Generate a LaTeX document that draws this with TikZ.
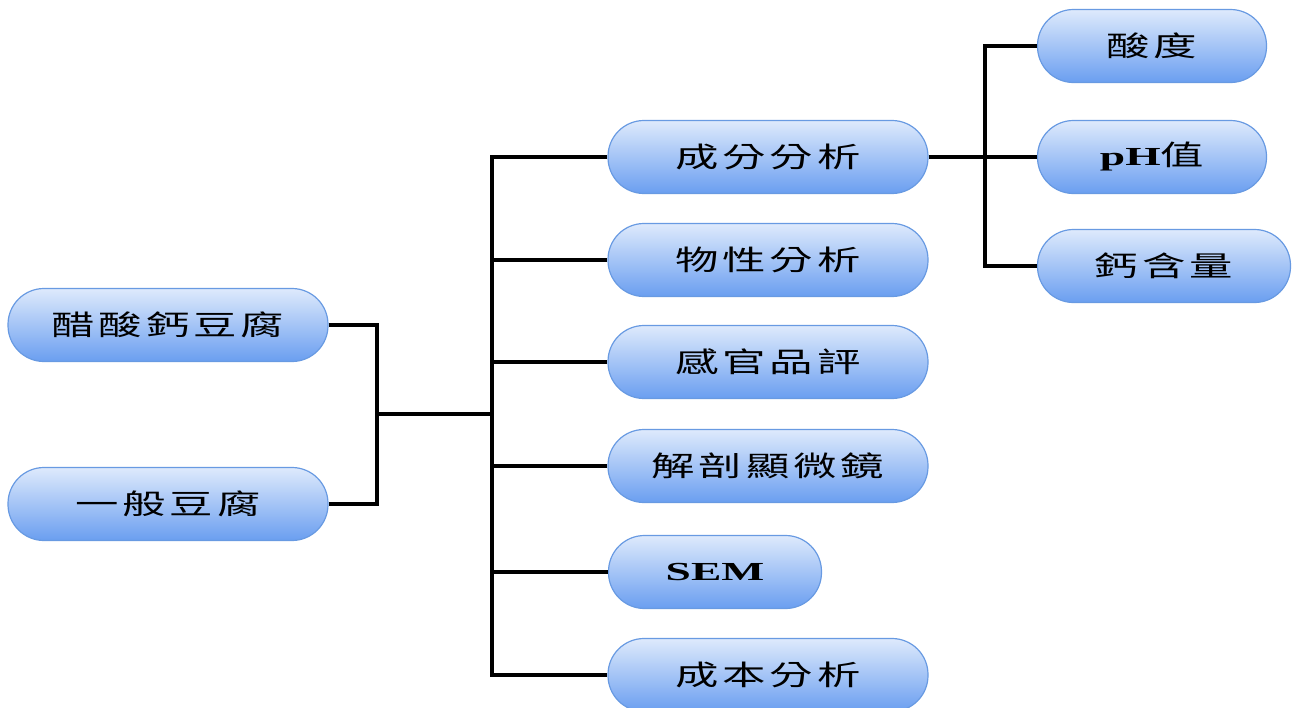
\documentclass[tikz,border=0pt]{standalone}
\usepackage{fontspec}
\newfontfamily\cjk[FakeStretch=1.55,LetterSpace=14]{Noto Sans CJK TC}
\newfontfamily\lat[FakeStretch=1.75]{Liberation Serif}
\definecolor{boxtop}{RGB}{222,234,252}
\definecolor{boxbot}{RGB}{106,158,240}
\definecolor{boxline}{RGB}{104,154,226}
\begin{document}
\begin{tikzpicture}[x=1pt,y=-1pt,
  box/.style={rectangle, rounded corners=36pt, draw=boxline, line width=1.2pt,
    top color=boxtop, bottom color=boxbot, minimum height=73pt, minimum width=320pt,
    inner sep=0pt, font=\cjk\fontsize{28}{28}\selectfont, text=black},
  ln/.style={line width=4pt, draw=black}]
\useasboundingbox (0,0) rectangle (1296,707);
% left nodes
\node[box] (a) at (168,325) {醋酸鈣豆腐};
\node[box] (b) at (168,504) {一般豆腐};
% middle nodes
\node[box] (n1) at (768,157) {成分分析};
\node[box] (n2) at (768,260) {物性分析};
\node[box] (n3) at (768,362) {感官品評};
\node[box] (n4) at (768,466) {解剖顯微鏡};
\node[box, minimum width=213pt] (n5) at (715,572) {{\lat\bfseries\fontsize{26}{26}\selectfont SEM}};
\node[box] (n6) at (768,675) {成本分析};
% right nodes
\node[box, minimum width=229pt] (r1) at (1152,46) {酸度};
\node[box, minimum width=229pt] (r2) at (1152,157) {{\lat\bfseries\fontsize{26}{26}\selectfont pH}值};
\node[box, minimum width=253pt] (r3) at (1164,266) {鈣含量};
% junctions
\coordinate (jl) at (377,414);
\coordinate (jm) at (492,414);
\coordinate (jr) at (985,157);
% connectors
\draw[ln] (a.east) -| (jl) |- (b.east);
\draw[ln] (jl) -- (jm);
\foreach \n in {n1,n2,n3,n4,n5,n6}{\draw[ln] (jm) |- (\n.west);}
\draw[ln] (n1.east) -- (r2.west);
\draw[ln] (jr) |- (r1.west);
\draw[ln] (jr) |- (r3.west);
\end{tikzpicture}
\end{document}
